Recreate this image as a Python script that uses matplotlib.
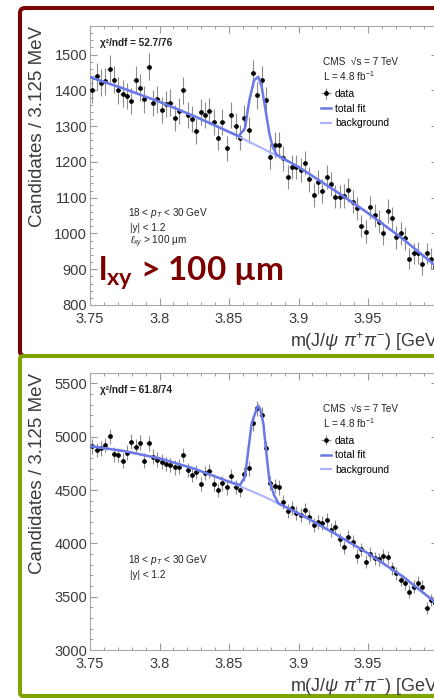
import numpy as np
import matplotlib
matplotlib.use('Agg')
import matplotlib.pyplot as plt
from matplotlib.patches import FancyBboxPatch
from matplotlib.ticker import MultipleLocator
from matplotlib.transforms import Affine2D

plt.rcParams['font.family'] = ['Liberation Sans', 'DejaVu Sans']
plt.rcParams['mathtext.fontset'] = 'custom'
plt.rcParams['mathtext.rm'] = 'Liberation Sans'
plt.rcParams['mathtext.it'] = 'Liberation Sans:italic'
plt.rcParams['mathtext.bf'] = 'Lato:bold'

W, H = 434, 698

# m(J/psi pi+ pi-) histogram: 80 bins of 3.125 MeV between 3.75 and 4.0 GeV
mass_lo, mass_hi = 3.75, 4.0
bin_width = 0.003125
bin_centres = mass_lo + bin_width * (np.arange(80) + 0.5)

# 18 < pT < 30 GeV, |y| < 1.2, l_xy > 100 um
counts_displaced = [
    1402, 1440, 1421, 1425, 1461, 1430, 1400, 1391, 1384, 1370,
    1430, 1407, 1375, 1466, 1365, 1375, 1345, 1362, 1366, 1324,
    1343, 1400, 1330, 1319, 1287, 1340, 1331, 1343, 1312, 1268,
    1312, 1238, 1330, 1300, 1268, 1324, 1290, 1448, 1386, 1430,
    1372, 1214, 1247, 1247, 1210, 1158, 1186, 1186, 1177, 1197,
    1151, 1107, 1144, 1119, 1157, 1138, 1103, 1103, 1105, 1121,
    1089, 1070, 1021, 1005, 1073, 1051, 1033, 1000, 1063, 1042,
    989, 1000, 986, 930, 944, 946, 915, 944, 930, 905,
]
# 18 < pT < 30 GeV, |y| < 1.2
counts_all = [
    4912, 4875, 4891, 4922, 5006, 4834, 4828, 4775, 4850, 4953,
    4906, 4944, 4775, 4938, 4812, 4784, 4766, 4744, 4734, 4713,
    4720, 4828, 4688, 4641, 4669, 4556, 4659, 4678, 4556, 4500,
    4563, 4525, 4631, 4531, 4500, 4650, 4703, 5125, 5266, 5203,
    4891, 4566, 4540, 4525, 4391, 4306, 4328, 4288, 4266, 4313,
    4244, 4172, 4203, 4194, 4219, 4125, 4150, 4038, 3963, 4063,
    4016, 3881, 3944, 3828, 3900, 3859, 3850, 3881, 3869, 3766,
    3719, 3656, 3625, 3547, 3594, 3631, 3594, 3394, 3469, 3440,
]

# fitted curves
bg_mass = [3.75, 3.775, 3.80, 3.825, 3.85, 3.875, 3.90, 3.925, 3.95, 3.975, 4.00]
bg_displaced = [1437, 1404, 1368, 1328, 1284, 1236, 1186, 1123, 1057, 985, 905]
bg_all = [4912, 4864, 4797, 4700, 4578, 4440, 4281, 4100, 3906, 3690, 3430]

fit_mass_displaced = [3.75, 3.775, 3.80, 3.825, 3.85, 3.857, 3.8615, 3.8646, 3.868,
                      3.8711, 3.8735, 3.8759, 3.879, 3.8814, 3.8843, 3.90, 3.925,
                      3.95, 3.975, 4.00]
fit_displaced = [1437, 1404, 1368, 1328, 1284, 1272, 1294, 1372, 1428,
                 1438, 1410, 1354, 1280, 1242, 1220, 1186, 1123,
                 1057, 985, 905]
fit_mass_all = [3.75, 3.775, 3.80, 3.825, 3.85, 3.8579, 3.8615, 3.8639, 3.8663,
                3.8699, 3.8711, 3.8723, 3.8747, 3.8764, 3.879, 3.8824, 3.8855,
                3.90, 3.925, 3.95, 3.975, 4.00]
fit_all = [4912, 4864, 4797, 4700, 4578, 4547, 4625, 4875, 5125,
           5262, 5290, 5262, 5125, 4906, 4594, 4453, 4375,
           4281, 4100, 3906, 3690, 3430]

fig = plt.figure(figsize=(W / 100, H / 100), dpi=100)
# pixel coordinates, origin top-left
pix = Affine2D().scale(1, -1).translate(0, H).scale(0.01) + fig.dpi_scale_trans

# coloured frames round the two plots
fig.add_artist(FancyBboxPatch((20, 8), 460, 348, boxstyle='round,pad=0,rounding_size=5',
                              transform=pix, fill=False, ec='#7a0202', lw=2.9))
fig.add_artist(FancyBboxPatch((20, 356), 460, 340, boxstyle='round,pad=0,rounding_size=3',
                              transform=pix, fill=False, ec='#7ea400', lw=2.9))


def add_axes_px(left, top, right, bottom):
    return fig.add_axes([left / W, 1 - bottom / H, (right - left) / W, (bottom - top) / H])


def draw_panel(ax, counts, bg, fit_mass, fit, ylim, ymajor, yminor, top):
    counts = np.array(counts)
    data = ax.errorbar(bin_centres, counts, yerr=np.sqrt(counts), xerr=bin_width / 2,
                       fmt='o', ms=2.4, color='black', ecolor='#8c8c8c',
                       elinewidth=0.8, capsize=0, zorder=3)
    bg_line, = ax.plot(bg_mass, bg, color='#aab4ff', lw=1.5, zorder=4)
    fit_line, = ax.plot(fit_mass, fit, color='#6a78e8', lw=1.8, zorder=5)

    ax.set_xlim(mass_lo, mass_hi)
    ax.set_ylim(*ylim)
    ax.xaxis.set_minor_locator(MultipleLocator(0.01))
    ax.yaxis.set_major_locator(MultipleLocator(ymajor))
    ax.yaxis.set_minor_locator(MultipleLocator(yminor))
    ax.set_xticks([3.75, 3.8, 3.85, 3.9, 3.95, 4.0])
    ax.set_xticklabels(['3.75', '3.8', '3.85', '3.9', '3.95', '4'])
    ax.tick_params(which='both', direction='in', top=True, right=True,
                   color='#9a9a9a', labelcolor='#3a3a3a', labelsize=10.5)
    ax.tick_params(which='major', length=5, width=0.8)
    ax.tick_params(which='minor', length=2.5, width=0.7)
    ax.tick_params(axis='y', pad=2)
    ax.tick_params(axis='x', pad=5)
    for sp in ax.spines.values():
        sp.set_color('#a8a8a8')
        sp.set_linewidth(0.8)

    fig.text(38, top, 'Candidates / 3.125 MeV', transform=pix, rotation=90,
             ha='center', va='top', fontsize=13.5, color='#3a3a3a')
    ax.legend([data, fit_line, bg_line], ['data', 'total fit', 'background'],
              loc='upper left', bbox_to_anchor=(321, top + 63), bbox_transform=pix,
              frameon=False, fontsize=7.5, handlelength=1.0, handletextpad=0.35,
              borderpad=0, borderaxespad=0, labelspacing=0.45)


ax1 = add_axes_px(90, 26, 437.5, 305)
draw_panel(ax1, counts_displaced, bg_displaced, fit_mass_displaced, fit_displaced,
           (800, 1580), 100, 20, 26)
ax2 = add_axes_px(90, 372.7, 437.5, 650)
draw_panel(ax2, counts_all, bg_all, fit_mass_all, fit_all,
           (3000, 5600), 500, 100, 372.7)

xlabel = r'm(J/$\psi$ $\pi^{+}\pi^{-}$) [GeV]'
for y in (342, 687):
    fig.text(442, y, xlabel, transform=pix, ha='right', va='center',
             fontsize=13, color='#3a3a3a')

small = dict(transform=pix, fontsize=7.2, color='#222222', va='center')
for dy, chi2 in ((0, '52.7/76'), (347, '61.8/74')):
    fig.text(100, 43 + dy, '\u03c7\u00b2/ndf = ' + chi2, fontweight='bold', **small)
    fig.text(323, 62 + dy, 'CMS  \u221as = 7 TeV', **small)
    fig.text(323, 76 + dy, r'L = 4.8 fb$^{-1}$', **small)
    fig.text(128, 213 + dy, r'18 < $p_{T}$ < 30 GeV', **small)
    fig.text(130, 228 + dy, '|y| < 1.2', **small)
fig.text(130, 242, r'$\ell_{xy}$ > 100 µm', **small)

# large label for the displaced selection
fig.text(98, 281, r'$\mathbf{l_{xy}}$ > 100 µm', transform=pix, fontfamily='Lato',
         fontweight='bold', fontsize=24, color='#7d0000', va='baseline')

fig.savefig('out.png', dpi=100)
